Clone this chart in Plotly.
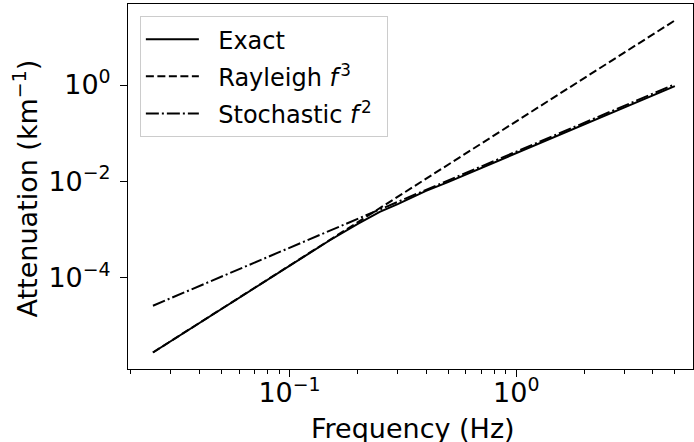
import plotly.graph_objects as go

# Data (Frequency in Hz, attenuation in km^-1)
freq_exact = [0.025, 0.04, 0.06, 0.1, 0.15, 0.2, 0.25, 0.3, 0.4, 0.5, 0.7, 1.0, 1.5, 2.0, 3.0, 4.0, 5.0]
atten_exact = [2.75e-6, 1.13e-5, 3.80e-5, 1.76e-4, 5.85e-4, 1.30e-3, 2.30e-3, 3.35e-3,
               6.3e-3, 9.6e-3, 1.88e-2, 3.85e-2, 8.6e-2, 0.152, 0.345, 0.62, 0.95]

freq_rayleigh = [0.025, 0.1, 1.0, 5.0]
atten_rayleigh = [2.75e-6, 1.76e-4, 0.176, 22.0]

freq_stoch = [0.025, 0.1, 1.0, 5.0]
atten_stoch = [2.58e-5, 4.13e-4, 0.0413, 1.033]

x_tickvals = [0.1, 1.0]
x_ticktext = ["10<sup>−1</sup>", "10<sup>0</sup>"]
x_minor = [0.02, 0.03, 0.04, 0.05, 0.06, 0.07, 0.08, 0.09,
           0.2, 0.3, 0.4, 0.5, 0.6, 0.7, 0.8, 0.9, 2, 3, 4, 5]
y_tickvals = [1e-4, 1e-2, 1.0]
y_ticktext = ["10<sup>−4</sup>", "10<sup>−2</sup>", "10<sup>0</sup>"]

FONT = "DejaVu Sans"
GAP = "\u2002\u200a"

fig = go.Figure()
fig.add_trace(go.Scatter(x=freq_exact, y=atten_exact, mode="lines", name=GAP + "Exact",
                         line=dict(color="black", width=2), legendgroup="a"))
fig.add_trace(go.Scatter(x=freq_rayleigh, y=atten_rayleigh, mode="lines",
                         name=GAP + "Rayleigh <i>f</i>\u200a<sup>3</sup>",
                         line=dict(color="black", width=2, dash="8px,3.5px"), legendgroup="b"))
fig.add_trace(go.Scatter(x=freq_stoch, y=atten_stoch, mode="lines",
                         name=GAP + "Stochastic <i>f</i>\u200a<sup>2</sup>\u2009\u2009",
                         line=dict(color="black", width=2, dash="13px,3px,2px,3px"), legendgroup="c"))

fig.update_layout(
    width=694, height=442,
    margin=dict(l=128, r=1, t=4, b=73, autoexpand=False),
    paper_bgcolor="white", plot_bgcolor="white",
    font=dict(family=FONT, color="black", size=27),
    showlegend=True,
    legend=dict(x=0.021, y=0.967, xanchor="left", yanchor="top",
                bgcolor="rgba(255,255,255,0.8)", bordercolor="#cccccc", borderwidth=1,
                font=dict(family=FONT, size=24, color="black"),
                tracegroupgap=3, itemwidth=53),
    annotations=[
        dict(text="Frequency (Hz)", xref="paper", yref="paper", x=0.505, y=-0.162,
             xanchor="center", yanchor="middle", showarrow=False,
             font=dict(family=FONT, size=27, color="black")),
        dict(text="Attenuation (km<sup>−1</sup>)", xref="paper", yref="paper", x=-0.182, y=0.495,
             xanchor="center", yanchor="middle", showarrow=False, textangle=-90,
             font=dict(family=FONT, size=27, color="black")),
    ],
)
fig.update_xaxes(
    type="log", range=[-1.712, 0.779], automargin=False,
    showline=True, linecolor="black", linewidth=1, mirror=True,
    showgrid=False, zeroline=False,
    ticks="outside", ticklen=7, tickwidth=1, tickcolor="black",
    tickvals=x_tickvals, ticktext=x_ticktext, ticklabelstandoff=-7,
    tickfont=dict(family=FONT, size=27, color="black"),
    minor=dict(tickvals=x_minor, ticks="outside", ticklen=4, tickwidth=1, tickcolor="black", showgrid=False),
)
fig.update_yaxes(
    type="log", range=[-5.904, 1.684], automargin=False,
    showline=True, linecolor="black", linewidth=1, mirror=True,
    showgrid=False, zeroline=False,
    ticks="outside", ticklen=7, tickwidth=1, tickcolor="black",
    tickvals=y_tickvals, ticktext=y_ticktext, ticklabelstandoff=4,
    tickfont=dict(family=FONT, size=27, color="black"),
)

fig.write_html("out.html", config={"displayModeBar": False},
               post_script="document.body.style.margin='0';")
